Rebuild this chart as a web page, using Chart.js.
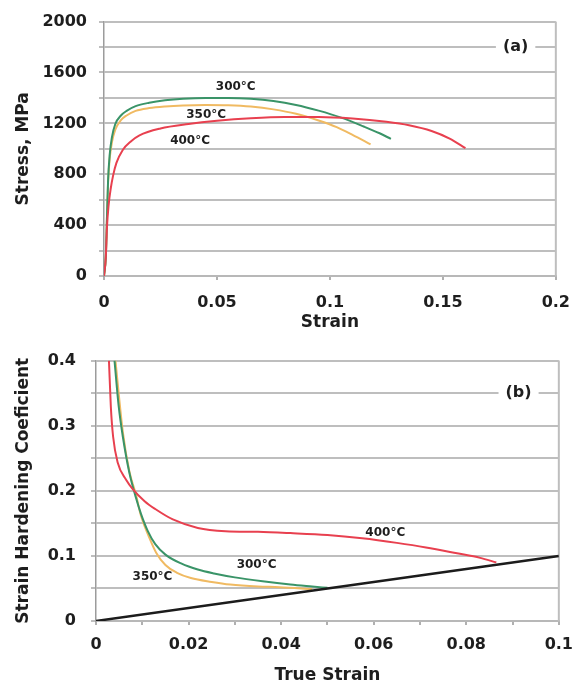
<!DOCTYPE html>
<html>
<head>
<meta charset="utf-8">
<script src="https://cdn.jsdelivr.net/npm/chart.js@4/dist/chart.umd.min.js"></script>
<style>
  html, body { margin: 0; padding: 0; background: #fff; }
  #wrap { position: relative; width: 583px; height: 690px; }
  .box { position: absolute; left: 0; width: 583px; }
  #boxA { top: 0; height: 336px; }
  #boxB { top: 336px; height: 354px; }
</style>
</head>
<body>
<div id="wrap">
  <div class="box" id="boxA"><canvas id="chartA" width="583" height="336"></canvas></div>
  <div class="box" id="boxB"><canvas id="chartB" width="583" height="354"></canvas></div>
</div>
<script>
// ---- (a) engineering stress-strain curves ----
const strain300 = [0, 0.0008, 0.0013, 0.0018, 0.0025, 0.0035, 0.005, 0.0075, 0.010, 0.014, 0.020, 0.027, 0.035, 0.045, 0.055, 0.065, 0.075, 0.085, 0.095, 0.105, 0.115, 0.122, 0.127];
const stress300 = [0, 150, 450, 750, 950, 1090, 1195, 1262, 1298, 1335, 1362, 1381, 1393, 1399, 1399, 1393, 1376, 1345, 1300, 1245, 1175, 1122, 1078];

const strain350 = [0, 0.0008, 0.0013, 0.0018, 0.0025, 0.0035, 0.005, 0.0075, 0.010, 0.014, 0.020, 0.027, 0.035, 0.045, 0.055, 0.065, 0.075, 0.085, 0.095, 0.103, 0.110, 0.118];
const stress350 = [0, 150, 450, 730, 920, 1050, 1150, 1225, 1262, 1298, 1320, 1333, 1341, 1344, 1342, 1332, 1310, 1275, 1222, 1170, 1110, 1035];

const strain400 = [0, 0.0008, 0.0013, 0.002, 0.003, 0.004, 0.0055, 0.0083, 0.012, 0.0157, 0.025, 0.0374, 0.05, 0.065, 0.08, 0.095, 0.11, 0.125, 0.135, 0.145, 0.153, 0.16];
const stress400 = [0, 150, 380, 550, 690, 787, 889, 991, 1060, 1106, 1160, 1195, 1220, 1240, 1250, 1250, 1238, 1212, 1185, 1140, 1080, 1005];

// ---- (b) strain hardening coefficient vs true strain ----
const trueStrain300 = [0.004, 0.0049, 0.0058, 0.0072, 0.0086, 0.0097, 0.0112, 0.0128, 0.015, 0.0185, 0.022, 0.0255, 0.030, 0.036, 0.042, 0.0467, 0.050];
const hardening300  = [0.400, 0.330, 0.283, 0.228, 0.190, 0.165, 0.138, 0.118, 0.102, 0.088, 0.079, 0.073, 0.067, 0.061, 0.056, 0.053, 0.051];

const trueStrain350 = [0.0042, 0.0058, 0.0072, 0.0086, 0.0097, 0.0114, 0.013, 0.015, 0.0175, 0.0205, 0.025, 0.029, 0.035, 0.0396, 0.0467];
const hardening350  = [0.400, 0.290, 0.230, 0.195, 0.162, 0.130, 0.105, 0.086, 0.074, 0.066, 0.060, 0.056, 0.053, 0.052, 0.049];

const trueStrain400 = [0.0028, 0.0032, 0.0037, 0.0047, 0.0065, 0.0079, 0.0105, 0.0128, 0.0166, 0.022, 0.028, 0.035, 0.042, 0.050, 0.0575, 0.065, 0.0713, 0.078, 0.083, 0.0865];
const hardening400  = [0.400, 0.330, 0.283, 0.243, 0.217, 0.203, 0.184, 0.172, 0.156, 0.143, 0.138, 0.137, 0.135, 0.132, 0.127, 0.120, 0.113, 0.104, 0.097, 0.090];

// n = true strain reference line
const refStrain = [0, 0.1];
const refN      = [0, 0.1];

// axis tick values
const stressTicks = [0, 400, 800, 1200, 1600, 2000];
const strainTicks = [0, 0.05, 0.1, 0.15, 0.2];
const nTicks = [0, 0.1, 0.2, 0.3, 0.4];
const trueStrainTicks = [0, 0.02, 0.04, 0.06, 0.08, 0.1];

const COL300 = '#3a9468';
const COL350 = '#f0ba62';
const COL400 = '#e8404f';
const GRID = '#bebebe';
const TXT = '#1e1e1e';
const FAMILY = '"DejaVu Sans", "Liberation Sans", Arial, sans-serif';

const pts = (xs, ys) => xs.map((x, i) => ({ x, y: ys[i] }));
const fmt = v => String(+Number(v).toFixed(4));
const hasTick = (list, v) => list.some(t => Math.abs(t - v) < 1e-9);

// right-hand frame line of the plot area, plus text labels in data coordinates
const notesPlugin = {
  id: 'notes',
  beforeDatasetsDraw(chart) {
    const { ctx, chartArea: a } = chart;
    ctx.save();
    ctx.strokeStyle = GRID;
    ctx.lineWidth = 2;
    ctx.beginPath();
    ctx.moveTo(a.right, a.top);
    ctx.lineTo(a.right, a.bottom);
    ctx.stroke();
    ctx.restore();
  },
  afterDatasetsDraw(chart, args, opts) {
    const { ctx } = chart;
    const xs = chart.scales.x, ys = chart.scales.y;
    ctx.save();
    ctx.textAlign = 'center';
    ctx.textBaseline = 'middle';
    for (const n of opts.items || []) {
      const px = xs.getPixelForValue(n.x);
      const py = ys.getPixelForValue(n.y);
      ctx.font = n.font;
      if (n.boxed) {
        const w = ctx.measureText(n.text).width + 14;
        ctx.fillStyle = '#fff';
        ctx.fillRect(px - w / 2, py - 5, w, 10);
      }
      ctx.fillStyle = TXT;
      ctx.fillText(n.text, px, py);
    }
    ctx.restore();
  }
};

function line(data, color, width) {
  return {
    data, borderColor: color, borderWidth: width || 2,
    pointRadius: 0, fill: false, cubicInterpolationMode: 'monotone'
  };
}

const tickFont = { family: FAMILY, weight: 'bold', size: 16 };
const titleFont = { family: FAMILY, weight: 'bold', size: 17 };
const labelFont = 'bold 12px ' + FAMILY;
const panelFont = 'bold 16px ' + FAMILY;

// (a)
new Chart(document.getElementById('chartA'), {
  type: 'line',
  data: {
    datasets: [
      line(pts(strain400, stress400), COL400),
      line(pts(strain300, stress300), COL300),
      line(pts(strain350, stress350), COL350)
    ]
  },
  options: {
    responsive: false,
    animation: false,
    layout: { padding: { top: 15, right: 19, bottom: 0, left: 0 } },
    plugins: {
      legend: { display: false },
      tooltip: { enabled: false },
      notes: {
        items: [
          { text: '300°C', x: 0.0583, y: 1487, font: labelFont },
          { text: '350°C', x: 0.0452, y: 1264, font: labelFont },
          { text: '400°C', x: 0.0381, y: 1062, font: labelFont },
          { text: '(a)', x: 0.1822, y: 1800, font: panelFont, boxed: true }
        ]
      }
    },
    scales: {
      x: {
        type: 'linear', min: 0, max: 0.2,
        afterFit: s => { s.height = 60; },
        afterBuildTicks: s => { s.ticks = strainTicks.map(v => ({ value: v })); },
        ticks: { autoSkip: false, maxRotation: 0, padding: 13, color: TXT, font: tickFont, callback: v => fmt(v) },
        grid: { drawOnChartArea: false, lineWidth: 2, tickLength: 4, tickColor: '#b0b0b0' },
        border: { display: true, color: '#b8b8b8', width: 2 },
        title: { display: true, text: 'Strain', color: TXT, font: titleFont, padding: { top: 0, bottom: 3 } }
      },
      y: {
        type: 'linear', min: 0, max: 2000,
        afterFit: s => { s.width = 104; },
        ticks: { stepSize: 200, autoSkip: false, padding: 12, color: TXT, font: tickFont,
                 callback: v => hasTick(stressTicks, v) ? fmt(v) : '' },
        grid: { color: GRID, lineWidth: 2, tickLength: 5, tickColor: GRID },
        border: { display: true, color: '#9c9c9c', width: 1.5 },
        title: { display: true, text: 'Stress, MPa', color: TXT, font: titleFont, padding: { top: 13, bottom: 0 } }
      }
    }
  },
  plugins: [notesPlugin]
});

// (b)
new Chart(document.getElementById('chartB'), {
  type: 'line',
  data: {
    datasets: [
      line(pts(trueStrain400, hardening400), COL400),
      line(pts(refStrain, refN), '#1c1c1c', 2.5),
      line(pts(trueStrain300, hardening300), COL300),
      line(pts(trueStrain350, hardening350), COL350)
    ]
  },
  options: {
    responsive: false,
    animation: false,
    layout: { padding: { top: 15, right: 14, bottom: 0, left: 0 } },
    plugins: {
      legend: { display: false },
      tooltip: { enabled: false },
      notes: {
        items: [
          { text: '400°C', x: 0.0625, y: 0.135, font: labelFont },
          { text: '300°C', x: 0.0347, y: 0.086, font: labelFont },
          { text: '350°C', x: 0.0122, y: 0.068, font: labelFont },
          { text: '(b)', x: 0.0913, y: 0.35, font: panelFont, boxed: true }
        ]
      }
    },
    scales: {
      x: {
        type: 'linear', min: 0, max: 0.1,
        afterFit: s => { s.height = 69; },
        ticks: { stepSize: 0.01, autoSkip: false, maxRotation: 0, padding: 10, color: TXT, font: tickFont,
                 callback: v => hasTick(trueStrainTicks, v) ? fmt(v) : '' },
        grid: { drawOnChartArea: false, lineWidth: 2, tickLength: 4, tickColor: '#b0b0b0' },
        border: { display: true, color: '#b8b8b8', width: 2 },
        title: { display: true, text: 'True Strain', color: TXT, font: titleFont, padding: { top: 0, bottom: 4 } }
      },
      y: {
        type: 'linear', min: 0, max: 0.4,
        afterFit: s => { s.width = 96; },
        ticks: { stepSize: 0.05, autoSkip: false, padding: 15, color: TXT, font: tickFont,
                 callback: v => hasTick(nTicks, v) ? fmt(v) : '' },
        grid: { color: GRID, lineWidth: 2, tickLength: 5, tickColor: GRID },
        border: { display: true, color: '#9c9c9c', width: 1.5 },
        title: { display: true, text: 'Strain Hardening Coeficient', color: TXT, font: titleFont, padding: { top: 13, bottom: 0 } }
      }
    }
  },
  plugins: [notesPlugin]
});
</script>
</body>
</html>
